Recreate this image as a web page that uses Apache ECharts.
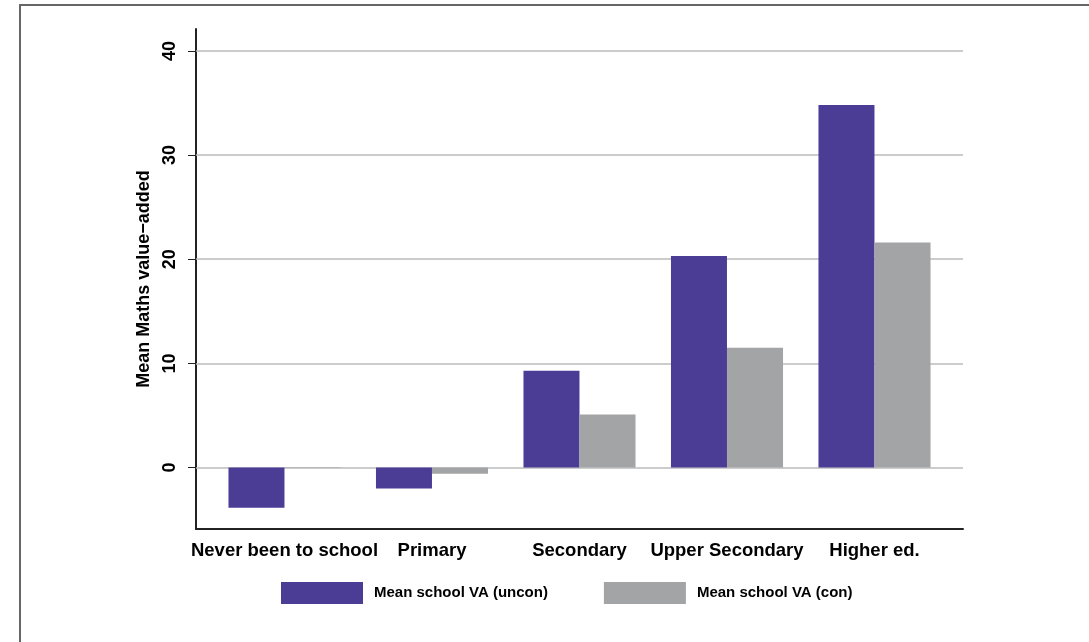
<!DOCTYPE html>
<html><head><meta charset="utf-8">
<script src="https://cdn.jsdelivr.net/npm/echarts@6/dist/echarts.min.js"></script>
<style>html,body{margin:0;background:#fff}#c{width:1089px;height:642px}</style>
</head><body><div id="c"></div>
<script>
var categories = ['Never been to school', 'Primary', 'Secondary', 'Upper Secondary', 'Higher ed.'];
var uncon = [-3.85, -2.0, 9.3, 20.3, 34.8];
var con = [0.05, -0.6, 5.1, 11.5, 21.6];
var yTicks = [0, 10, 20, 30, 40];
var FONT = "'Liberation Sans', Arial, sans-serif";

var chart = echarts.init(document.getElementById('c'));
var shift = 0.19;
chart.setOption({
    animation: false,
    textStyle: { fontFamily: FONT },
    graphic: [{ type: 'rect', shape: { x: 20, y: 5, width: 1200, height: 800 },
        style: { fill: 'none', stroke: '#666', lineWidth: 2 } }],
    legend: {
        bottom: 33, left: 276, itemWidth: 82, itemHeight: 22, itemGap: 56,
        icon: 'rect',
        textStyle: { fontFamily: FONT, fontWeight: 'bold', fontSize: 15, color: '#000', padding: [0, 0, 0, 6] },
        data: ['Mean school VA (uncon)', 'Mean school VA (con)']
    },
    grid: { left: 196, right: 126, top: 29, bottom: 113 },
    xAxis: {
        type: 'value', min: -0.6, max: 4.6,
        splitLine: { show: false },
        axisLine: { show: true, onZero: false, lineStyle: { color: '#222', width: 2 } },
        axisTick: { show: false },
        axisLabel: {
            customValues: [0, 1, 2, 3, 4],
            formatter: function (v) { return categories[Math.round(v)]; },
            fontFamily: FONT, fontWeight: 'bold', fontSize: 18.5, color: '#000', margin: 12
        }
    },
    yAxis: {
        type: 'value', min: -5.9, max: 42.1,
        name: 'Mean Maths value\u2212added', nameLocation: 'middle', nameGap: 42,
        nameTextStyle: { fontFamily: FONT, fontWeight: 'bold', fontSize: 18, color: '#000' },
        axisLine: { show: true, onZero: false, lineStyle: { color: '#222', width: 2 } },
        axisTick: { show: true, customValues: yTicks, length: 8, lineStyle: { color: '#222' } },
        axisLabel: { customValues: yTicks, rotate: 90, fontFamily: FONT, fontWeight: 'bold', fontSize: 18, color: '#000', margin: 17 },
        splitLine: { show: false }
    },
    series: [{
        name: 'Mean school VA (uncon)', type: 'bar', barWidth: 56, barGap: '-100%',
        itemStyle: { color: '#4b3c96' },
        markLine: {
            silent: true, symbol: 'none', label: { show: false },
            lineStyle: { color: '#bbb', type: 'solid', width: 1.5 },
            data: yTicks.map(function (t) { return { yAxis: t }; }),
            z: 1
        },
        z: 3,
        data: uncon.map(function (v, i) { return [i - shift, v]; })
    }, {
        name: 'Mean school VA (con)', type: 'bar', barWidth: 56, barGap: '-100%',
        itemStyle: { color: '#a2a4a5' },
        z: 3,
        data: con.map(function (v, i) { return [i + shift, v]; })
    }]
});
</script></body></html>
